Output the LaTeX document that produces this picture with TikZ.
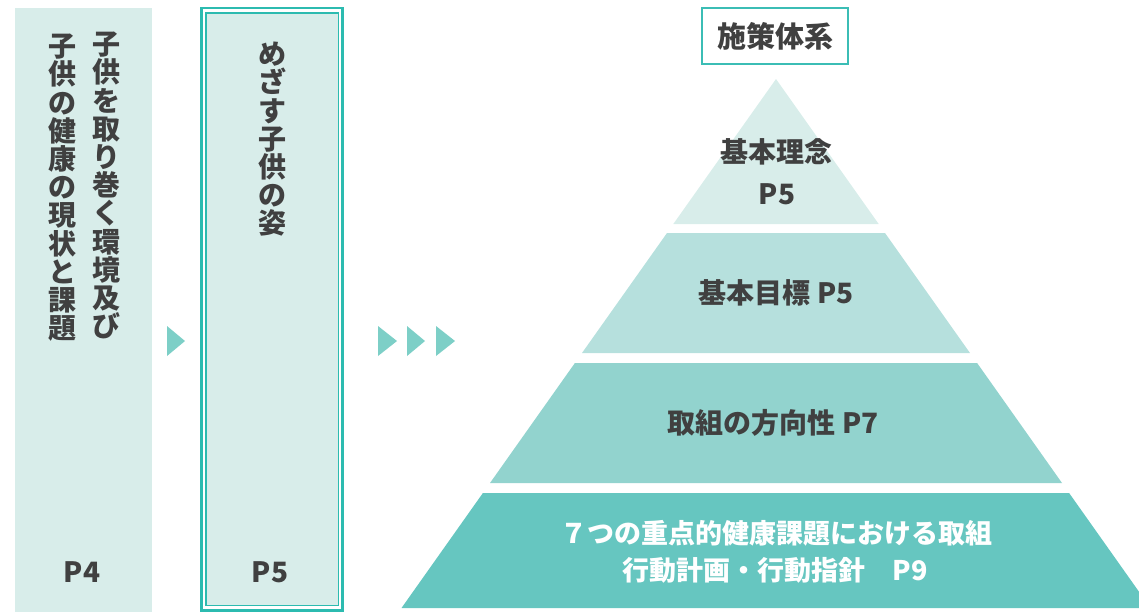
\documentclass[tikz,border=0pt]{standalone}
\usepackage{fontspec}
\newfontfamily\jp{Noto Sans CJK JP}
\definecolor{colbg}{HTML}{D8EDEA}
\definecolor{tealline}{HTML}{2CBBB0}
\definecolor{titleline}{HTML}{3BBDB5}
\definecolor{arrowc}{HTML}{7DCFC7}
\definecolor{layA}{HTML}{D8EDEA}
\definecolor{layB}{HTML}{B6E0DD}
\definecolor{layC}{HTML}{92D3CE}
\definecolor{layD}{HTML}{66C6C0}
\definecolor{txt}{HTML}{404040}
\tikzset{
  vtext/.style={inner sep=0pt, align=center, text=txt, font=\jp\bfseries\fontsize{28}{28.2}\selectfont, anchor=north},
  pagelbl/.style={inner sep=0pt, text=txt, font=\jp\bfseries\fontsize{28}{30}\selectfont},
  pyrtext/.style={inner sep=0pt, text=txt, font=\jp\bfseries\fontsize{28}{30}\selectfont},
  pyrwhite/.style={inner sep=0pt, text=white, font=\jp\bfseries\fontsize{27}{30}\selectfont},
  arrowtri/.style={fill=arrowc, draw=none},
}
\begin{document}
\begin{tikzpicture}[x=1pt,y=-1pt]
\useasboundingbox (0,0) rectangle (1139,614);
\clip (0,0) rectangle (1139,614);
% left column
\fill[colbg] (15,8) rectangle (152,612);
\node[vtext] (envA) at (106,32) {子\\供\\を\\取\\り\\巻\\く\\環\\境\\及\\び};
\node[vtext] (envB) at (62,34) {子\\供\\の\\健\\康\\の\\現\\状\\と\\課\\題};
\node[pagelbl] (p4) at (82,572) {P4};
% single arrow
\fill[arrowtri] (167,326) -- (185,341) -- (167,356) -- cycle;
% middle column
\fill[colbg] (206,13) rectangle (338.5,605.5);
\draw[tealline, line width=1.5pt] (206,13) rectangle (338.5,605.5);
\draw[tealline, line width=2.5pt] (201.5,8) rectangle (342.5,610.5);
\node[vtext] (goal) at (272,42) {め\\ざ\\す\\子\\供\\の\\姿};
\node[pagelbl] (p5m) at (270,572) {P5};
% triple arrows
\fill[arrowtri] (378,326) -- (397,341) -- (378,356) -- cycle;
\fill[arrowtri] (407,326) -- (425,341) -- (407,356) -- cycle;
\fill[arrowtri] (436,326) -- (455,341) -- (436,356) -- cycle;
% title
\node[draw=titleline, line width=1.5pt, minimum width=146pt, minimum height=56pt, inner sep=0pt,
      text=txt, font=\jp\bfseries\fontsize{29}{30}\selectfont] (title) at (775,36) {施策体系};
% pyramid
\fill[layA] (776,79) -- (878.7,224) -- (673.3,224) -- cycle;
\fill[layB] (667,233) -- (885,233) -- (970,353) -- (582,353) -- cycle;
\fill[layC] (574.9,363) -- (977.1,363) -- (1062,483) -- (490,483) -- cycle;
\fill[layD] (482.9,493) -- (1069.1,493) -- (1150.5,608) -- (401.5,608) -- cycle;
\node[pyrtext] (l1a) at (776,152) {基本理念};
\node[pyrtext] (l1b) at (777,194) {P5};
\node[pyrtext] (l2) at (776,293) {基本目標 P5};
\node[pyrtext] (l3) at (773,423) {取組の方向性 P7};
\node[pyrwhite] (l4a) at (776,533) {７つの重点的健康課題における取組};
\node[pyrwhite] (l4b) at (775,570) {行動計画・行動指針　P9};
\end{tikzpicture}
\end{document}
